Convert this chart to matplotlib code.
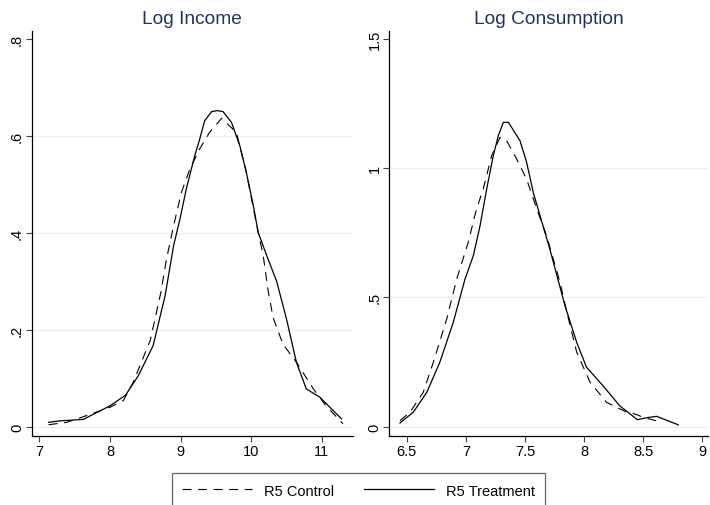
import numpy as np
import matplotlib
matplotlib.use('Agg')
import matplotlib.pyplot as plt
from matplotlib.lines import Line2D

plt.rcParams['font.family'] = ['Liberation Sans', 'DejaVu Sans']

# Log Income densities
inc_ctrl_x = [7.13, 7.39, 7.67, 8.00, 8.19, 8.33, 8.57, 8.72, 8.80, 8.90, 9.01, 9.13, 9.27,
              9.41, 9.58, 9.79, 9.93, 10.08, 10.17, 10.24, 10.31, 10.45, 10.64, 10.88, 11.06, 11.30]
inc_ctrl_y = [0.004, 0.009, 0.023, 0.040, 0.054, 0.092, 0.178, 0.277, 0.346, 0.414, 0.483, 0.531, 0.573,
              0.607, 0.636, 0.607, 0.525, 0.414, 0.353, 0.280, 0.225, 0.170, 0.133, 0.078, 0.043, 0.006]
inc_trt_x = [7.13, 7.29, 7.62, 8.00, 8.22, 8.40, 8.61, 8.78, 8.90, 8.99, 9.08, 9.20, 9.27, 9.34, 9.44,
             9.52, 9.60, 9.72, 9.84, 9.93, 10.03, 10.10, 10.22, 10.36, 10.50, 10.64, 10.78, 10.97, 11.28]
inc_trt_y = [0.009, 0.012, 0.015, 0.043, 0.065, 0.105, 0.167, 0.270, 0.373, 0.428, 0.490, 0.559, 0.593, 0.631, 0.650,
             0.652, 0.650, 0.628, 0.579, 0.525, 0.456, 0.400, 0.353, 0.300, 0.222, 0.133, 0.078, 0.061, 0.016]

# Log Consumption densities
con_ctrl_x = [6.443, 6.528, 6.64, 6.725, 6.838, 6.923, 7.02, 7.09, 7.147, 7.218, 7.289, 7.345, 7.43,
              7.514, 7.60, 7.683, 7.796, 7.85, 7.937, 8.05, 8.19, 8.36, 8.43, 8.50, 8.64]
con_ctrl_y = [0.023, 0.056, 0.133, 0.249, 0.416, 0.571, 0.713, 0.842, 0.919, 1.048, 1.119, 1.106, 1.035,
              0.957, 0.842, 0.738, 0.558, 0.450, 0.288, 0.172, 0.094, 0.056, 0.049, 0.036, 0.019]
con_trt_x = [6.443, 6.556, 6.67, 6.78, 6.894, 6.993, 7.063, 7.12, 7.176, 7.232, 7.274, 7.317, 7.36, 7.458,
             7.514, 7.57, 7.627, 7.71, 7.838, 7.937, 8.02, 8.16, 8.30, 8.45, 8.53, 8.613, 8.796]
con_trt_y = [0.014, 0.056, 0.133, 0.249, 0.404, 0.571, 0.661, 0.777, 0.919, 1.048, 1.125, 1.177, 1.177, 1.106,
             1.022, 0.906, 0.816, 0.687, 0.468, 0.326, 0.230, 0.158, 0.081, 0.027, 0.035, 0.040, 0.007]

inc_xticks = [7, 8, 9, 10, 11]
inc_yticks = [0, 0.2, 0.4, 0.6, 0.8]
inc_ylabels = ['0', '.2', '.4', '.6', '.8']
con_xticks = [6.5, 7, 7.5, 8, 8.5, 9]
con_xlabels = ['6.5', '7', '7.5', '8', '8.5', '9']
con_yticks = [0, 0.5, 1, 1.5]
con_ylabels = ['0', '.5', '1', '1.5']

title_col = '#1f3264'
grid_col = '#e8f0f1'
dash = (0, (8, 6))

fig = plt.figure(figsize=(7.1, 5.06), dpi=100)
ax1 = fig.add_axes([0.0446, 0.137, 0.4524, 0.800])
ax2 = fig.add_axes([0.5483, 0.137, 0.4489, 0.800])


def style(ax, title, xticks, xlabels, yticks, ylabels):
    for s in ['top', 'right']:
        ax.spines[s].set_visible(False)
    for s in ['left', 'bottom']:
        ax.spines[s].set_linewidth(0.9)
    for y in yticks[:-1]:
        ax.axhline(y, color=grid_col, lw=1.0, zorder=0)
    ax.set_xticks(xticks)
    ax.set_xticklabels(xlabels, fontsize=10.5)
    ax.set_yticks(yticks)
    ax.set_yticklabels(ylabels, fontsize=10.5, rotation=90, va='center')
    ax.tick_params(length=4, width=0.8, color='#444444', pad=2)
    ax.tick_params(axis='y', pad=1.5)
    ax.set_title(title, fontsize=13.8, color=title_col, pad=6)


ax1.plot(inc_ctrl_x, inc_ctrl_y, color='black', lw=0.8, ls=dash)
ax1.plot(inc_trt_x, inc_trt_y, color='black', lw=0.9)
ax1.set_xlim(6.89, 11.44)
ax1.set_ylim(-0.0186, 0.8165)
style(ax1, 'Log Income', inc_xticks, [str(v) for v in inc_xticks], inc_yticks, inc_ylabels)

ax2.plot(con_ctrl_x, con_ctrl_y, color='black', lw=0.8, ls=dash)
ax2.plot(con_trt_x, con_trt_y, color='black', lw=0.9)
ax2.set_xlim(6.353, 9.047)
ax2.set_ylim(-0.0348, 1.531)
style(ax2, 'Log Consumption', con_xticks, con_xlabels, con_yticks, con_ylabels)

handles = [Line2D([], [], color='black', lw=0.8, ls=dash),
           Line2D([], [], color='black', lw=0.9)]
leg = fig.legend(handles, ['R5 Control', 'R5 Treatment'], loc='upper left',
                 bbox_to_anchor=(0.2418, 0.0626), ncol=2, fontsize=10.5,
                 frameon=True, fancybox=False, borderaxespad=0, borderpad=0.7,
                 handlelength=4.8, handletextpad=0.82, columnspacing=2.06)
leg.get_frame().set_edgecolor('#404040')
leg.get_frame().set_linewidth(0.9)

fig.savefig('out.png', dpi=100)
